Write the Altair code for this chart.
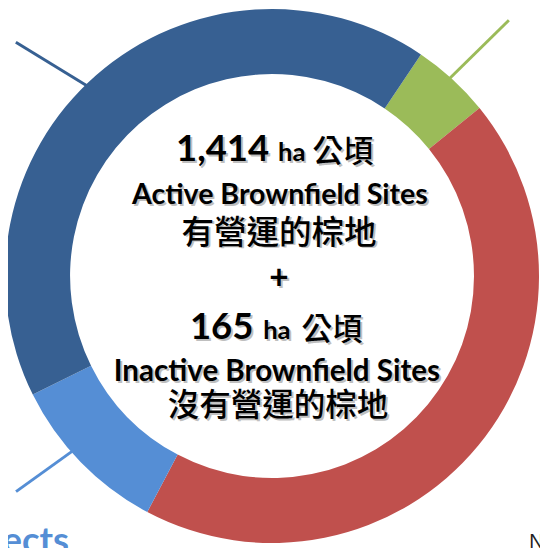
import altair as alt
import numpy as np
import pandas as pd

# ---------------- data ----------------
segments = ["Segment green", "Segment red", "Segment light blue", "Segment dark blue"]
hectares = [75, 688, 157, 659]
seg_colors = ["#9BBB59", "#C0504D", "#558ED5", "#376092"]

active_value = "1,414"
inactive_value = "165"
unit_en = "ha"
unit_zh = "公頃"
active_en = "Active Brownfield Sites"
active_zh = "有營運的棕地"
inactive_en = "Inactive Brownfield Sites"
inactive_zh = "沒有營運的棕地"
plus_sign = "+"
left_cut_label = "Projects"
right_cut_label = "N"

# ---------------- layout / style ----------------
W, H = 540, 540
CX, CY = 268, 268
R_OUT, R_IN = 271, 205
START_DEG = 33.9
EN_FONT = "Lato"
ZH_FONT = "Noto Sans CJK TC"
# leader line style: (attach offset deg, direction in screen degrees, length px)
leader_style = {
    "Segment green": (-0.5, 315.5, 84),
    "Segment light blue": (3.0, 144.3, 70),
    "Segment dark blue": (-3.0, 211.4, 84),
}

df = pd.DataFrame({"segment": segments, "ha": hectares, "order": list(range(len(segments)))})
start = np.deg2rad(START_DEG)

arc = alt.Chart(df).mark_arc(outerRadius=R_OUT, innerRadius=R_IN).encode(
    theta=alt.Theta("ha:Q", stack=True, scale=alt.Scale(range=[start, start + 2 * np.pi])),
    order=alt.Order("order:Q"),
    color=alt.Color("segment:N", scale=alt.Scale(domain=segments, range=seg_colors), legend=None),
    x=alt.value(CX),
    y=alt.value(CY),
)

# leader lines computed from segment mid-angles
total = float(sum(hectares))
cum = np.cumsum(hectares)
rows = []
for seg, v, c in zip(segments, hectares, cum):
    if seg not in leader_style:
        continue
    off, d, L = leader_style[seg]
    a = start + 2 * np.pi * (c - v / 2) / total + np.deg2rad(off)
    r = R_OUT - 1
    x0 = CX + r * np.sin(a)
    y0 = CY - r * np.cos(a)
    x1 = x0 + L * np.cos(np.deg2rad(d))
    y1 = y0 + L * np.sin(np.deg2rad(d))
    rows.append({"segment": seg, "x0": x0, "y0": y0, "x1": x1, "y1": y1})
ldf = pd.DataFrame(rows)
leaders = alt.Chart(ldf).mark_rule(strokeWidth=3).encode(
    x=alt.X("x0:Q", scale=None),
    y=alt.Y("y0:Q", scale=None),
    x2="x1:Q",
    y2="y1:Q",
    color=alt.Color("segment:N", scale=alt.Scale(domain=segments, range=seg_colors), legend=None),
)


def label(text, x, y, size, font, weight="bold", align="center", color="#000000",
          shadow=True, baseline="alphabetic"):
    base = alt.Chart(pd.DataFrame({"t": [text]}))
    kw = dict(font=font, fontSize=size, fontWeight=weight, align=align, baseline=baseline)
    parts = []
    if shadow:
        parts.append(base.mark_text(color="#808080", opacity=0.5, dx=2, dy=2, **kw).encode(
            text="t:N", x=alt.value(x), y=alt.value(y)))
    parts.append(base.mark_text(color=color, **kw).encode(
        text="t:N", x=alt.value(x), y=alt.value(y)))
    return parts


texts = []
texts += label(active_value, 265, 151, 37, EN_FONT, align="right")
texts += label(unit_en, 274, 151, 26, EN_FONT, align="left")
texts += label(unit_zh, 309, 152, 31, ZH_FONT, weight=500, align="left")
texts += label(active_en, 276, 195, 29, EN_FONT)
texts += label(active_zh, 275, 235, 33, ZH_FONT, weight=500)
texts += label(plus_sign, 275, 271, 34, EN_FONT, baseline="middle")
texts += label(inactive_value, 249, 332, 37, EN_FONT, align="right")
texts += label(unit_en, 259, 332, 26, EN_FONT, align="left")
texts += label(unit_zh, 298, 333, 31, ZH_FONT, weight=500, align="left")
texts += label(inactive_en, 273, 375, 30, EN_FONT)
texts += label(inactive_zh, 274, 410, 32, ZH_FONT, weight=500)
texts += label(left_cut_label, 62, 549, 37, EN_FONT, align="right", color="#558ED5", shadow=False)
texts += label(right_cut_label, 529, 544, 20, "Liberation Sans", weight="normal", align="left",
               color="#222222", shadow=False)

chart = alt.layer(leaders, arc, *texts).properties(
    width=W, height=H, autosize=alt.AutoSizeParams(type="none"), padding=0,
    background="#FFFFFF",
).configure_view(stroke=None)

chart.save("out.html", embed_options={"renderer": "svg", "actions": False})
